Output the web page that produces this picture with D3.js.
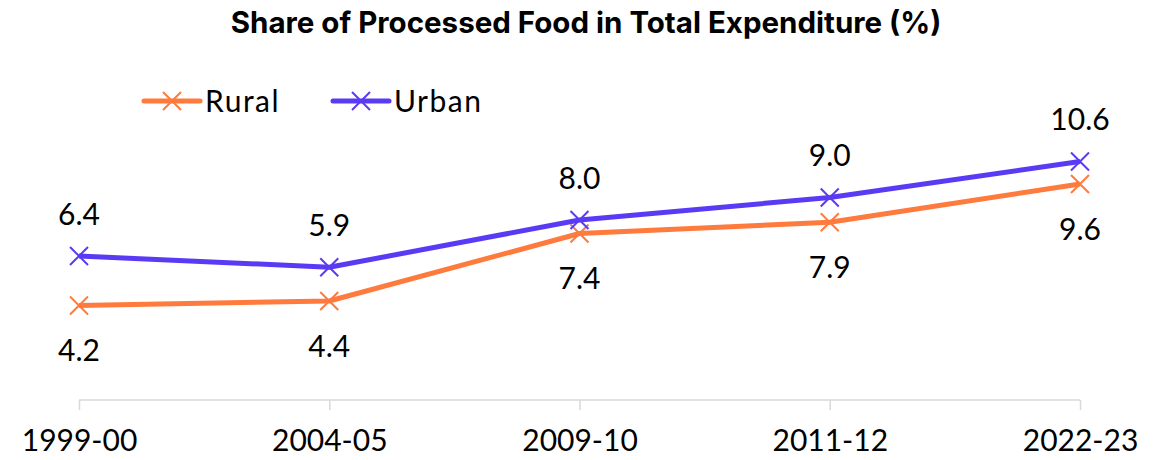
<!DOCTYPE html>
<html><head><meta charset="utf-8">
<script src="https://cdn.jsdelivr.net/npm/d3@7/dist/d3.min.js"></script>
<style>body{margin:0;background:#fff}svg{display:block}</style>
</head><body><svg id="c" width="1168" height="460"></svg>
<script>
const categories = ["1999-00","2004-05","2009-10","2011-12","2022-23"];
const rural = [4.2, 4.4, 7.4, 7.9, 9.6];
const urban = [6.4, 5.9, 8.0, 9.0, 10.6];
const seriesNames = ["Rural","Urban"];
const colors = {Rural:"#FF7A3D", Urban:"#5B3AF5"};

const svg = d3.select("#c");
const font = "Lato, 'Open Sans', sans-serif";
const x = d3.scalePoint().domain(categories).range([79,1080]);
const y = d3.scaleLinear().domain([0,12]).range([400,130]);

svg.append("text").attr("x",586).attr("y",33).attr("text-anchor","middle")
  .style("font-family","Inter, Lato, sans-serif").style("font-weight","bold").style("font-size","29.5px").attr("fill","#000")
  .text("Share of Processed Food in Total Expenditure (%)");

// axis
const ax = svg.append("g").attr("transform","translate(0,400)")
  .call(d3.axisBottom(x).tickSize(10).tickSizeOuter(0));
ax.select(".domain").attr("stroke","#d9d9d9").attr("stroke-width",1.5)
  .attr("d", `M${x(categories[0])},0H${x(categories[categories.length-1])}`);
ax.selectAll(".tick line").attr("stroke","#d9d9d9").attr("stroke-width",1.5);
ax.selectAll(".tick text").attr("y",40).attr("dy","0.35em")
  .style("font-family",font).style("font-size","30px").attr("fill","#000");

function drawX(g, cx, cy, color){
  const s=9;
  g.append("path").attr("d",`M${cx-s},${cy-s}L${cx+s},${cy+s}M${cx-s},${cy+s}L${cx+s},${cy-s}`)
   .attr("stroke",color).attr("stroke-width",2).attr("fill","none");
}

const data = {Rural:rural, Urban:urban};
const line = d3.line().x((d,i)=>x(categories[i])).y(d=>y(d));
seriesNames.forEach(name=>{
  const vals=data[name], col=colors[name];
  const g=svg.append("g");
  g.append("path").datum(vals).attr("d",line).attr("fill","none")
    .attr("stroke",col).attr("stroke-width",5).attr("stroke-linejoin","round");
  vals.forEach((v,i)=>drawX(g,x(categories[i]),y(v),col));
  vals.forEach((v,i)=>{
    g.append("text").attr("x",x(categories[i])).attr("y",y(v)+(name==="Urban"?-42:45))
     .attr("dy","0.35em").attr("text-anchor","middle")
     .style("font-family",font).style("font-size","30px").attr("fill","#000")
     .text(v.toFixed(1));
  });
});

// legend
const legX=[144,333];
seriesNames.forEach((name,i)=>{
  const lx=legX[i], ly=101, col=colors[name];
  svg.append("line").attr("x1",lx).attr("x2",lx+56).attr("y1",ly).attr("y2",ly)
    .attr("stroke",col).attr("stroke-width",5).attr("stroke-linecap","round");
  drawX(svg,lx+28,ly,col);
  svg.append("text").attr("x",lx+61).attr("y",ly).attr("dy","0.35em")
    .style("font-family",font).style("font-size","30px").style("letter-spacing","1.5px").attr("fill","#000").text(name);
});
</script></body></html>
